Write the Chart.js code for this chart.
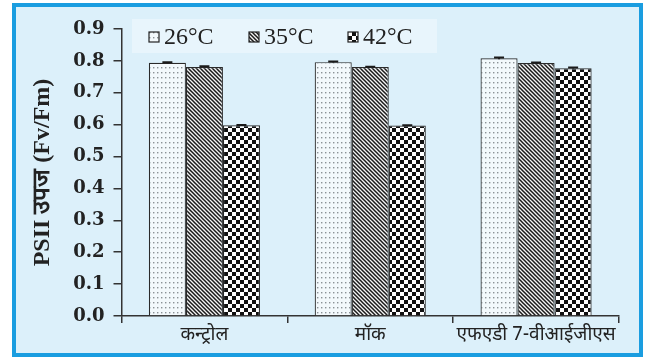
<!DOCTYPE html>
<html><head><meta charset="utf-8">
<script src="https://cdn.jsdelivr.net/npm/chart.js@4/dist/chart.umd.min.js"></script>
<style>
html,body{margin:0;padding:0;background:#fff;}
#frame{position:absolute;left:12px;top:3px;width:623px;height:346px;border:4px solid #1a9de0;background:#dcf0fa;}
#wrap{position:absolute;left:0;top:0;width:645px;height:357px;}
</style></head><body>
<div id="frame"></div>
<div id="wrap"><canvas id="c" width="645" height="357"></canvas></div>
<script>
const categories = ['कन्ट्रोल', 'मॉक', 'एफएडी 7-वीआईजीएस'];
const seriesLabels = ['26°C', '35°C', '42°C'];
const v26 = [0.794, 0.796, 0.808];
const v35 = [0.781, 0.781, 0.793];
const v42 = [0.598, 0.597, 0.777];
const e26 = [0.002, 0.002, 0.003];
const e35 = [0.002, 0.001, 0.002];
const e42 = [0.001, 0.001, 0.002];
const yAxisTitle = 'PSII उपज (Fv/Fm)';

const canvas = document.getElementById('c');
const ctx = canvas.getContext('2d');

function makePattern(kind) {
  const t = document.createElement('canvas');
  const g = t.getContext('2d');
  if (kind === 'dots') {
    t.width = 4; t.height = 5;
    g.fillStyle = '#f3f9fc'; g.fillRect(0, 0, 4, 5);
    g.fillStyle = '#8a9296'; g.fillRect(1, 2, 1.4, 1.4);
  } else if (kind === 'stripes') {
    t.width = 4; t.height = 4;
    g.fillStyle = '#f4f4f4'; g.fillRect(0, 0, 4, 4);
    g.strokeStyle = '#1a1a1a'; g.lineWidth = 1.5;
    g.beginPath();
    g.moveTo(-1, -1); g.lineTo(5, 5);
    g.moveTo(-1, 3); g.lineTo(1, 5);
    g.moveTo(3, -1); g.lineTo(5, 1);
    g.stroke();
  } else {
    t.width = 8; t.height = 8;
    g.fillStyle = '#ffffff'; g.fillRect(0, 0, 8, 8);
    g.fillStyle = '#111111';
    g.fillRect(0, 0, 4, 4); g.fillRect(4, 4, 4, 4);
  }
  return ctx.createPattern(t, 'repeat');
}
const patterns = [makePattern('dots'), makePattern('stripes'), makePattern('checker')];
const values = [v26, v35, v42];
const errors = [e26, e35, e42];

const serifFam = '"Liberation Serif", "Times New Roman", Times, serif';

const legendPlugin = {
  id: 'inLegend',
  beforeDatasetsDraw(chart) {
    const c = chart.ctx;
    c.save();
    c.fillStyle = 'rgba(255,255,255,0.35)';
    c.fillRect(132, 19, 305, 34);
    const xs = [149, 249, 348];
    c.font = '24px ' + serifFam;
    c.textBaseline = 'middle';
    chart.data.datasets.forEach((ds, i) => {
      c.fillStyle = ds.backgroundColor;
      c.fillRect(xs[i], 32, 10, 10);
      c.strokeStyle = '#222'; c.lineWidth = 1.2;
      c.strokeRect(xs[i], 32, 10, 10);
      c.fillStyle = '#222';
      c.fillText(ds.label, xs[i] + 15, 38);
    });
    c.restore();
  }
};

const errPlugin = {
  id: 'errBars',
  afterDatasetsDraw(chart) {
    const c = chart.ctx;
    const ys = chart.scales.y;
    c.save();
    c.strokeStyle = '#1a1a1a';
    c.lineWidth = 2;
    chart.data.datasets.forEach((ds, i) => {
      const meta = chart.getDatasetMeta(i);
      meta.data.forEach((el, j) => {
        const v = ds.data[j], e = errors[i][j];
        const y1 = ys.getPixelForValue(v + e), y2 = ys.getPixelForValue(v - e);
        c.beginPath();
        c.moveTo(el.x, y1); c.lineTo(el.x, y2);
        c.moveTo(el.x - 5, y1); c.lineTo(el.x + 5, y1);
        c.stroke();
      });
    });
    c.restore();
  }
};

new Chart(canvas, {
  type: 'bar',
  data: {
    labels: categories,
    datasets: seriesLabels.map((lab, i) => ({
      label: lab,
      data: values[i],
      backgroundColor: patterns[i],
      borderColor: '#2a2a2a',
      borderWidth: 1.2,
      barPercentage: 1,
      categoryPercentage: 0.67
    }))
  },
  options: {
    responsive: false,
    devicePixelRatio: 1,
    animation: false,
    layout: { padding: { left: 20, top: 29, right: 26, bottom: 0 } },
    plugins: { legend: { display: false }, tooltip: { enabled: false } },
    scales: {
      x: {
        afterFit(s) { s.height = 41; },
        grid: { drawOnChartArea: false, drawTicks: true, tickLength: 7, color: '#333', lineWidth: 1.5, offset: true },
        border: { display: true, color: '#333', width: 1.5 },
        ticks: { color: '#222', padding: 2, font: { size: 19, family: '"Noto Sans Devanagari", "Lohit Devanagari", "Noto Sans", sans-serif' } }
      },
      y: {
        min: 0, max: 0.9,
        afterFit(s) { s.width = 101.5; },
        grid: { drawOnChartArea: false, drawTicks: true, tickLength: 8, color: '#333', lineWidth: 1.5 },
        border: { display: true, color: '#333', width: 1.5 },
        ticks: { stepSize: 0.1, padding: 9, color: '#222', font: { size: 18, weight: 'bold', family: '"DejaVu Serif", serif' }, callback: v => Number(v).toFixed(1) },
        title: { display: true, text: yAxisTitle, color: '#222', padding: { top: 8, bottom: 0 }, font: { size: 24, weight: 'bold', family: serifFam } }
      }
    }
  },
  plugins: [legendPlugin, errPlugin]
});
</script>
</body></html>
